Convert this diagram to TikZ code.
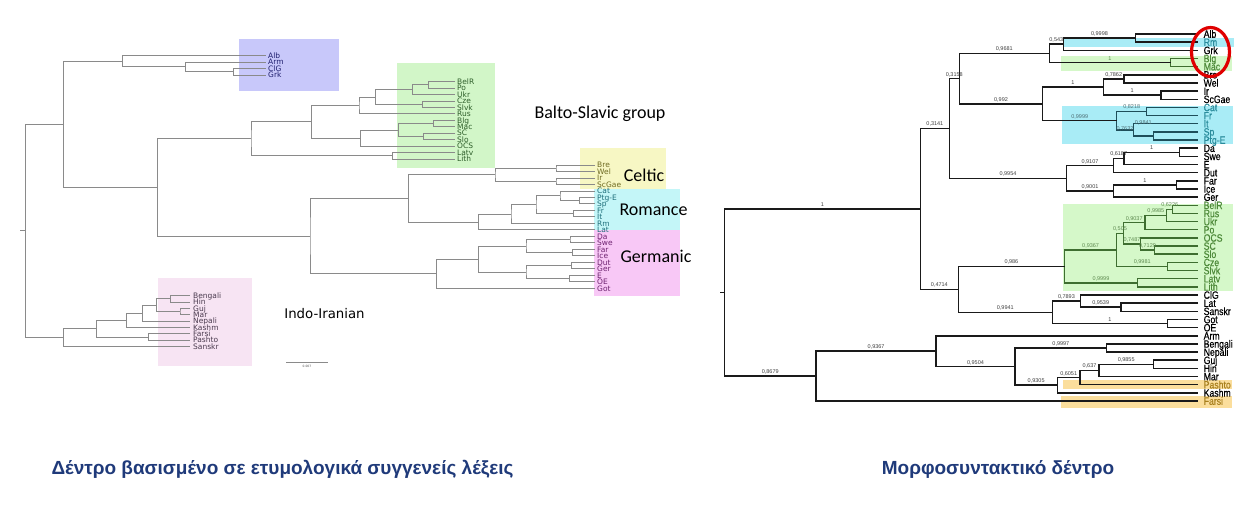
\documentclass[tikz,border=0pt]{standalone}
\usepackage{fontspec}
\usetikzlibrary{calc}
\setmainfont{DejaVu Sans}
\newfontfamily\dvs{DejaVu Sans}
\newfontfamily\carl{Carlito}
\newfontfamily\rfont[FakeStretch=0.82,FakeBold=0.5]{Liberation Sans}
\newfontfamily\nfont{Liberation Sans}
\newfontfamily\capfont{Liberation Sans}
\definecolor{lgray}{HTML}{8A8A8A}
\definecolor{bxblue}{HTML}{C8C8FA}
\definecolor{bxgreen}{HTML}{D2F6C8}
\definecolor{bxyel}{HTML}{F7F7C4}
\definecolor{bxcyan}{HTML}{C4F6F8}
\definecolor{bxmag}{HTML}{F8C8F6}
\definecolor{bxpink}{HTML}{F7E4F3}
\definecolor{rcyan}{HTML}{A9ECF6}
\definecolor{rgreen}{HTML}{D5F8C9}
\definecolor{rorange}{HTML}{FBDE9C}
\definecolor{tnavy}{HTML}{1E1E6E}
\definecolor{tgreen}{HTML}{2E5E2A}
\definecolor{tolive}{HTML}{6E6A22}
\definecolor{tteal}{HTML}{1E6E7A}
\definecolor{tpurp}{HTML}{6E2270}
\definecolor{tii}{HTML}{4A3A4E}
\definecolor{rteal}{HTML}{2A8C9C}
\definecolor{rgrn}{HTML}{4E8A3A}
\definecolor{rorn}{HTML}{A8801E}
\definecolor{rline}{HTML}{1A1A1A}
\definecolor{gline}{HTML}{3E6E30}
\definecolor{tline}{HTML}{1E4E5A}
\definecolor{grlab}{HTML}{5E8A50}
\definecolor{tllab}{HTML}{4E6E74}
\definecolor{capblue}{HTML}{1F3A7A}
\definecolor{redring}{HTML}{E00000}
% internal node: name, x, first child, last child
\newcommand\nd[4]{%
  \coordinate (#1m) at ($(#3)!0.5!(#4)$);
  \coordinate (#1) at (#1m -| #2,0);
  \draw[tree] (#3) -| (#1) |- (#4);}
% branch label: [opts] child, parent, text
\newcommand\bl[4][]{%
  \path (#2 -| #3) -- (#2) node[blab,midway,#1] (b#2) {#4};}
\begin{document}
\begin{tikzpicture}[x=1pt,y=-1pt,
  lleaf/.style={anchor=west,inner sep=0pt,text height=5.4pt,text depth=0pt,font=\dvs\fontsize{7.5}{7.5}\selectfont},
  rleaf/.style={anchor=west,inner sep=0pt,text height=7.5pt,text depth=0pt,font=\rfont\fontsize{10.6}{10.6}\selectfont},
  blab/.style={above=2.3pt,inner sep=0pt,text height=3.9pt,text depth=0pt,font=\nfont\fontsize{5.5}{5.5}\selectfont,text=black!75},
  grp/.style={inner sep=0pt,font=\carl\fontsize{18}{18}\selectfont,text=black},
  capt/.style={inner sep=0pt,font=\capfont\bfseries\fontsize{19}{19}\selectfont,text=capblue}]
\fill[white] (0,0) rectangle (1256,504);
\useasboundingbox (0,0) rectangle (1256,504);
% ---------- left background boxes ----------
\fill[bxblue] (239,39) rectangle (339,91);
\fill[bxgreen] (397,63) rectangle (495,168);
\fill[bxyel] (580,148) rectangle (666,189);
\fill[bxcyan] (594,189) rectangle (680,230);
\fill[bxmag] (594,230) rectangle (680,296);
\fill[bxpink] (158,278) rectangle (252,366);
% ---------- right background boxes ----------
\fill[rcyan] (1063.3,38.3) rectangle (1234.3,46.7);
\fill[rgreen] (1061,55.7) rectangle (1232.3,71);
\fill[rcyan] (1062.3,105.7) rectangle (1233.3,144);
\fill[rgreen] (1062.7,204.3) rectangle (1233.3,290.8);
\fill[rorange] (1063.3,380) rectangle (1232.3,389.3);
\fill[rorange] (1060.7,396) rectangle (1232.3,407.7);
% ================= LEFT TREE =================
\begin{scope}[tree/.style={lgray,line width=0.9pt}]
\foreach \n [count=\i from 0] in {Alb,Arm,ClG,Grk}{
  \coordinate (L\n) at (265.5,{55.5+6.5*\i});
  \node[lleaf,text=tnavy] (Lt\n) at (268,{55.5+6.5*\i}) {\n};}
\foreach \n [count=\i from 0] in {BelR,Po,Ukr,Cze,Slvk,Rus,Blg,Mac,SC,Slo,OCS,Latv,Lith}{
  \coordinate (L\n) at (455,{81.7+6.44*\i});
  \node[lleaf,text=tgreen] (Lt\n) at (457,{81.7+6.44*\i}) {\n};}
\foreach \n/\c [count=\i from 0] in {Bre/tolive,Wel/tolive,Ir/tolive,ScGae/tolive,Cat/tteal,Ptg-E/tteal,Sp/tteal,Fr/tteal,It/tteal,Rm/tteal,Lat/tteal,Da/tpurp,Swe/tpurp,Far/tpurp,Ice/tpurp,Dut/tpurp,Ger/tpurp,E/tpurp,OE/tpurp,Got/tpurp}{
  \coordinate (L\n) at (595,{165+6.49*\i});
  \node[lleaf,text=\c] (Lt\n) at (597,{165+6.49*\i}) {\n};}
\foreach \n [count=\i from 0] in {Bengali,Hin,Guj,Mar,Nepali,Kashm,Farsi,Pashto,Sanskr}{
  \coordinate (L\n) at (190,{295.7+6.35*\i});
  \node[lleaf,text=tii] (Lt\n) at (193,{295.7+6.35*\i}) {\n};}
\nd{LnCG}{233.3}{LClG}{LGrk}
\nd{LnArm}{185.7}{LArm}{LnCG}
\nd{LnAlb}{122.7}{LAlb}{LnArm}
\nd{LnBP}{428.3}{LBelR}{LPo}
\nd{LnBPU}{412.7}{LnBP}{LUkr}
\nd{LnCS}{422.7}{LCze}{LSlvk}
\nd{LnNW}{375.7}{LnBPU}{LnCS}
\nd{LnNWR}{359}{LnNW}{LRus}
\nd{LnBM}{433.3}{LBlg}{LMac}
\nd{LnSS}{423.3}{LSC}{LSlo}
\nd{LnSouth}{398.3}{LnBM}{LnSS}
\nd{LnSO}{360.7}{LnSouth}{LOCS}
\nd{LnSlav}{311.7}{LnNWR}{LnSO}
\nd{LnLL}{392.7}{LLatv}{LLith}
\nd{LnBS}{251}{LnSlav}{LnLL}
\nd{LnBW}{556}{LBre}{LWel}
\nd{LnIS}{556}{LIr}{LScGae}
\nd{LnCelt}{495}{LnBW}{LnIS}
\nd{LnPS}{579.3}{LPtg-E}{LSp}
\nd{LnCPS}{560}{LCat}{LnPS}
\nd{LnFI}{573.3}{LFr}{LIt}
\nd{LnRa}{536}{LnCPS}{LnFI}
\nd{LnRb}{511}{LnRa}{LRm}
\nd{LnRc}{478.3}{LnRb}{LLat}
\nd{LnCR}{408.3}{LnCelt}{LnRc}
\nd{LnDS}{570}{LDa}{LSwe}
\nd{LnFIc}{572.7}{LFar}{LIce}
\nd{LnNo}{526}{LnDS}{LnFIc}
\nd{LnDG}{571.7}{LDut}{LGer}
\nd{LnEO}{569.3}{LE}{LOE}
\nd{LnWe}{526}{LnDG}{LnEO}
\nd{LnGa}{478.3}{LnNo}{LnWe}
\nd{LnGerm}{436.7}{LnGa}{LGot}
\nd{LnCRG}{310}{LnCR}{LnGerm}
\nd{LnBSCRG}{157.3}{LnBS}{LnCRG}
\nd{LnTop}{63.3}{LnAlb}{LnBSCRG}
\nd{LnBH}{170.7}{LBengali}{LHin}
\nd{LnGM}{180}{LGuj}{LMar}
\nd{LnBHGM}{156.7}{LnBH}{LnGM}
\nd{LnN}{142.7}{LnBHGM}{LNepali}
\nd{LnK}{126.7}{LnN}{LKashm}
\nd{LnFP}{148.3}{LFarsi}{LPashto}
\nd{LnKFP}{96.7}{LnK}{LnFP}
\nd{LnII}{63.3}{LnKFP}{LSanskr}
\nd{Lroot}{25.7}{LnTop}{LnII}
\coordinate (Lstub) at (Lroot -| 20,0);
\draw[tree] (Lstub) -- (Lroot);
% scale bar
\coordinate (sbA) at (286,362.3);
\coordinate (sbB) at (328,362.3);
\draw[tree,line width=0.7pt] (sbA) -- (sbB);
\node[inner sep=0pt,font=\dvs\fontsize{3}{3}\selectfont,text=black!70] (sbT) at (307,366.8) {0.007};
\end{scope}
% group names
\node[grp] (gBS) at (600,113.3) {Balto-Slavic group};
\node[grp] (gCe) at (644,175) {Celtic};
\node[grp] (gRo) at (653.5,210) {Romance};
\node[grp] (gGe) at (656,256.7) {Germanic};
\node[inner sep=0pt,font=\dvs\fontsize{13.3}{13.3}\selectfont] (gII) at (324.5,314) {Indo-Iranian};
% ================= RIGHT TREE =================
\foreach \n/\c [count=\i from 0] in {Alb/black,Rm/rteal,Grk/black,Blg/rgrn,Mac/rgrn,Bre/black,Wel/black,Ir/black,ScGae/black,Cat/rteal,Fr/rteal,It/rteal,Sp/rteal,Ptg-E/rteal,Da/black,Swe/black,E/black,Dut/black,Far/black,Ice/black,Ger/black,BelR/rgrn,Rus/rgrn,Ukr/rgrn,Po/rgrn,OCS/rgrn,SC/rgrn,Slo/rgrn,Cze/rgrn,Slvk/rgrn,Latv/rgrn,Lith/rgrn,ClG/black,Lat/black,Sanskr/black,Got/black,OE/black,Arm/black,Bengali/black,Nepali/black,Guj/black,Hin/black,Mar/black,Pashto/rorn,Kashm/black,Farsi/rorn}{
  \coordinate (R\n) at (1198,{34+8.156*\i});
  \node[rleaf,text=\c] (Rt\n) at (1203.5,{34+8.156*\i}) {\n};}
\begin{scope}[tree/.style={rline,line width=1.5pt}]
\nd{RnAR}{1135.7}{RAlb}{RRm}
\nd{RnARG}{1063.3}{RnAR}{RGrk}
\end{scope}
\begin{scope}[tree/.style={gline,line width=1.5pt}]
\nd{RnBM}{1170.7}{RBlg}{RMac}
\end{scope}
\begin{scope}[tree/.style={rline,line width=1.5pt}]
\nd{RnBalk}{1049.3}{RnARG}{RnBM}
\nd{RnBW}{1124}{RBre}{RWel}
\nd{RnIS}{1161}{RIr}{RScGae}
\nd{RnCelt}{1103.3}{RnBW}{RnIS}
\end{scope}
\begin{scope}[tree/.style={tline,line width=1.5pt}]
\nd{RnCF}{1146.7}{RCat}{RFr}
\nd{RnSP}{1153.3}{RSp}{RPtg-E}
\nd{RnISP}{1133.3}{RIt}{RnSP}
\nd{RnRom}{1116.7}{RnCF}{RnISP}
\end{scope}
\begin{scope}[tree/.style={rline,line width=1.5pt}]
\nd{RnCR}{1042.7}{RnCelt}{RnRom}
\nd{RnTh}{959.3}{RnBalk}{RnCR}
\nd{RnDS}{1179.3}{RDa}{RSwe}
\nd{RnDSE}{1124}{RnDS}{RE}
\nd{RnDSED}{1113.3}{RnDSE}{RDut}
\nd{RnFI}{1176.7}{RFar}{RIce}
\nd{RnFIG}{1113.3}{RnFI}{RGer}
\nd{RnGerm}{1066.7}{RnDSED}{RnFIG}
\nd{RnNF}{949.3}{RnTh}{RnGerm}
\end{scope}
\begin{scope}[tree/.style={gline,line width=1.5pt}]
\nd{RnBR}{1172.7}{RBelR}{RRus}
\nd{RnBRU}{1166.7}{RnBR}{RUkr}
\nd{RnBRUP}{1145}{RnBRU}{RPo}
\nd{RnSS}{1154.3}{RSC}{RSlo}
\nd{RnOSS}{1140.7}{ROCS}{RnSS}
\nd{RnWS}{1123.3}{RnBRUP}{RnOSS}
\nd{RnCS}{1167.7}{RCze}{RSlvk}
\nd{RnSlav}{1116.7}{RnWS}{RnCS}
\nd{RnLL}{1137.3}{RLatv}{RLith}
\nd{RnBS}{1064.5}{RnSlav}{RnLL}
\end{scope}
\begin{scope}[tree/.style={rline,line width=1.5pt}]
\nd{RnLS}{1120.8}{RLat}{RSanskr}
\nd{RnCLS}{1080.5}{RClG}{RnLS}
\nd{RnGO}{1167.3}{RGot}{ROE}
\nd{RnNN}{1052.3}{RnCLS}{RnGO}
\nd{RnFE}{958.3}{RnBS}{RnNN}
\nd{RnTop}{920.4}{RnNF}{RnFE}
\nd{RnBN}{1106.7}{RBengali}{RNepali}
\nd{RnGH}{1153.3}{RGuj}{RHin}
\nd{RnGHM}{1099}{RnGH}{RMar}
\nd{RnP}{1080}{RnGHM}{RPashto}
\nd{RnK}{1057.3}{RnP}{RKashm}
\nd{RnIA}{1015}{RnBN}{RnK}
\nd{RnArm}{936}{RArm}{RnIA}
\nd{RnII}{816.2}{RnArm}{RFarsi}
\nd{Rroot}{724.3}{RnTop}{RnII}
\coordinate (Rstub) at (Rroot -| 720,0);
\draw[tree] (Rstub) -- (Rroot);
\end{scope}
% branch support labels
\bl{RnAR}{RnARG}{0,9998}
\bl{RnARG}{RnBalk}{0,543}
\bl[text=grlab]{RnBM}{RnBalk}{1}
\bl{RnBalk}{RnTh}{0,9681}
\bl{RnBW}{RnCelt}{0,7862}
\bl{RnIS}{RnCelt}{1}
\bl{RnCelt}{RnCR}{1}
\bl[text=tllab]{RnCF}{RnRom}{0,8218}
\bl[text=tllab,yshift=9pt]{RnSP}{RnISP}{0,9841}
\bl[text=tllab,yshift=-3pt]{RnISP}{RnRom}{0,7632}
\bl[text=tllab]{RnRom}{RnCR}{0,9999}
\bl{RnCR}{RnTh}{0,992}
\bl{RnTh}{RnNF}{0,3158}
\bl{RnDS}{RnDSE}{1}
\bl{RnDSE}{RnDSED}{0,6187}
\bl{RnDSED}{RnGerm}{0,9107}
\bl{RnFI}{RnFIG}{1}
\bl{RnFIG}{RnGerm}{0,9001}
\bl{RnGerm}{RnNF}{0,9954}
\bl{RnNF}{RnTop}{0,3141}
\bl[text=grlab]{RnBR}{RnBRU}{0,6226}
\bl[text=grlab]{RnBRU}{RnBRUP}{0,9985}
\bl[text=grlab]{RnBRUP}{RnWS}{0,9037}
\bl[text=grlab]{RnSS}{RnOSS}{0,7129}
\bl[text=grlab]{RnOSS}{RnWS}{0,7487}
\bl[text=grlab]{RnWS}{RnSlav}{0,505}
\bl[text=grlab]{RnCS}{RnSlav}{0,9981}
\bl[text=grlab]{RnSlav}{RnBS}{0,9367}
\bl[text=grlab]{RnLL}{RnBS}{0,9999}
\bl{RnBS}{RnFE}{0,986}
\bl{RnLS}{RnCLS}{0,9539}
\bl{RnCLS}{RnNN}{0,7893}
\bl{RnGO}{RnNN}{1}
\bl{RnNN}{RnFE}{0,9941}
\bl{RnFE}{RnTop}{0,4714}
\bl{RnTop}{Rroot}{1}
\bl{RnBN}{RnIA}{0,9997}
\bl{RnGH}{RnGHM}{0,9855}
\bl{RnGHM}{RnP}{0,637}
\bl{RnP}{RnK}{0,6051}
\bl{RnK}{RnIA}{0,9305}
\bl{RnIA}{RnArm}{0,9504}
\bl{RnArm}{RnII}{0,9367}
\bl{RnII}{Rroot}{0,8679}
% red ring
\draw[redring,line width=3.2pt] (1210.5,52) ellipse [x radius=19,y radius=24.5];
% captions
\node[capt] (capL) at (282.5,469) {Δέντρο βασισμένο σε ετυμολογικά συγγενείς λέξεις};
\node[capt] (capR) at (998,469) {Μορφοσυντακτικό δέντρο};
\end{tikzpicture}
\end{document}
